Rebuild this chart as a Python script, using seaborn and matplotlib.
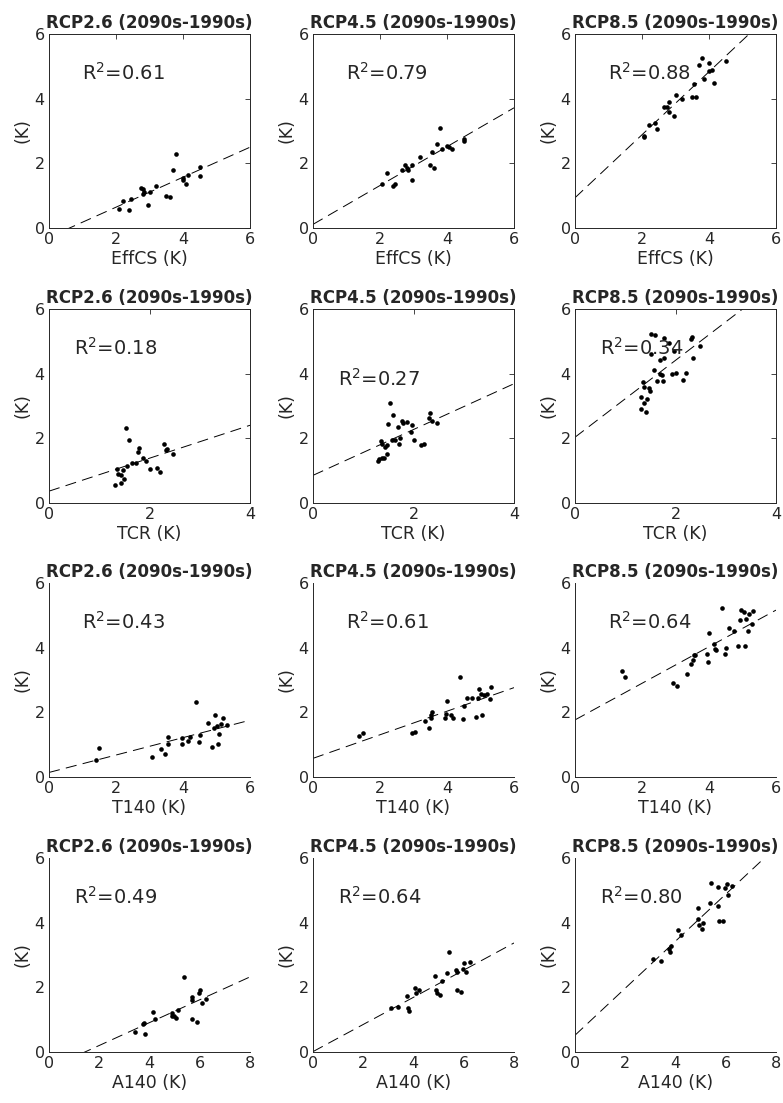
import numpy as np
import matplotlib
matplotlib.use("Agg")
import matplotlib.pyplot as plt
import seaborn as sns


# ---- data (x = metric, y = warming 2090s-1990s) ----
effcs_26_x = [2.1, 2.2, 2.4, 2.45, 2.75, 2.8, 2.8, 2.85, 2.95, 3.0, 3.2, 3.5, 3.6, 3.7, 3.8, 4.0, 4.0, 4.1, 4.15, 4.5, 4.5]
effcs_26_y = [0.6, 0.85, 0.55, 0.9, 1.25, 1.2, 1.05, 1.1, 0.7, 1.1, 1.3, 1.0, 0.95, 1.8, 2.3, 1.55, 1.5, 1.35, 1.65, 1.9, 1.6]
effcs_45_x = [2.05, 2.2, 2.4, 2.45, 2.65, 2.75, 2.8, 2.85, 2.95, 2.95, 3.2, 3.5, 3.55, 3.6, 3.7, 3.8, 3.85, 4.0, 4.05, 4.15, 4.5, 4.5]
effcs_45_y = [1.35, 1.7, 1.3, 1.35, 1.8, 1.95, 1.85, 1.8, 1.5, 1.95, 2.2, 1.95, 2.35, 1.85, 2.6, 3.1, 2.45, 2.55, 2.5, 2.45, 2.75, 2.7]
effcs_85_x = [2.05, 2.05, 2.2, 2.4, 2.45, 2.65, 2.75, 2.8, 2.8, 2.95, 3.0, 3.2, 3.5, 3.6, 3.55, 3.7, 3.8, 3.85, 4.0, 4.0, 4.1, 4.15, 4.5]
effcs_85_y = [2.85, 2.8, 3.2, 3.25, 3.05, 3.75, 3.75, 3.9, 3.6, 3.45, 4.1, 4.0, 4.05, 4.05, 4.45, 5.05, 5.25, 4.6, 5.1, 4.85, 4.9, 4.5, 5.15]

tcr_26_x = [1.31, 1.36, 1.38, 1.43, 1.43, 1.49, 1.47, 1.53, 1.56, 1.6, 1.65, 1.74, 1.77, 1.79, 1.87, 1.94, 2.0, 2.15, 2.21, 2.29, 2.33, 2.35, 2.47]
tcr_26_y = [0.57, 1.04, 0.91, 0.86, 0.63, 0.73, 1.01, 2.33, 1.14, 1.95, 1.24, 1.24, 1.58, 1.69, 1.38, 1.31, 1.04, 1.09, 0.96, 1.83, 1.65, 1.66, 1.53]
tcr_45_x = [1.29, 1.32, 1.37, 1.42, 1.36, 1.37, 1.43, 1.47, 1.48, 1.5, 1.53, 1.58, 1.6, 1.63, 1.7, 1.72, 1.73, 1.78, 1.8, 1.87, 1.95, 1.97, 2.0, 2.15, 2.2, 2.3, 2.33, 2.37, 2.47]
tcr_45_y = [1.31, 1.37, 1.39, 1.39, 1.91, 1.84, 1.73, 1.79, 1.53, 2.44, 3.1, 1.96, 2.72, 1.96, 2.36, 1.84, 2.0, 2.54, 2.46, 2.51, 2.2, 2.41, 1.94, 1.79, 1.84, 2.62, 2.77, 2.54, 2.46]
tcr_85_x = [1.31, 1.31, 1.35, 1.37, 1.38, 1.42, 1.43, 1.47, 1.49, 1.51, 1.51, 1.57, 1.6, 1.63, 1.7, 1.7, 1.73, 1.75, 1.78, 1.77, 1.87, 1.93, 1.98, 2.0, 2.15, 2.21, 2.31, 2.33, 2.35, 2.49]
tcr_85_y = [3.27, 2.9, 3.75, 3.09, 3.6, 2.82, 3.22, 3.55, 3.47, 5.22, 4.6, 4.12, 5.2, 3.77, 4.43, 3.98, 3.96, 3.77, 4.48, 5.1, 4.94, 3.98, 4.7, 4.01, 3.8, 4.03, 5.08, 5.12, 4.5, 4.87]

t140_26_x = [1.4, 1.5, 3.06, 3.35, 3.46, 3.55, 3.56, 3.96, 3.97, 4.14, 4.21, 4.39, 4.49, 4.51, 4.76, 4.88, 4.96, 4.93, 5.0, 5.05, 5.07, 5.13, 5.2, 5.3]
t140_26_y = [0.54, 0.91, 0.61, 0.87, 0.71, 1.02, 1.25, 1.21, 1.01, 1.12, 1.24, 2.33, 1.08, 1.29, 1.68, 0.94, 1.93, 1.51, 1.57, 1.01, 1.34, 1.65, 1.82, 1.62]
t140_45_x = [1.38, 1.48, 2.95, 3.05, 3.34, 3.46, 3.52, 3.53, 3.55, 3.95, 3.97, 4.0, 4.12, 4.18, 4.4, 4.47, 4.5, 4.6, 4.75, 4.88, 4.92, 4.97, 5.05, 5.02, 5.1, 5.2, 5.28, 5.3]
t140_45_y = [1.28, 1.36, 1.35, 1.38, 1.72, 1.51, 1.83, 1.93, 2.01, 1.83, 1.95, 2.35, 1.93, 1.83, 3.1, 1.8, 2.19, 2.43, 2.45, 1.85, 2.45, 2.71, 1.93, 2.58, 2.54, 2.58, 2.4, 2.77]
t140_85_x = [1.4, 1.5, 2.93, 3.05, 3.35, 3.47, 3.53, 3.55, 3.57, 3.95, 3.97, 4.0, 4.15, 4.18, 4.21, 4.4, 4.48, 4.5, 4.6, 4.75, 4.87, 4.92, 4.97, 5.03, 5.07, 5.11, 5.15, 5.2, 5.27, 5.3]
t140_85_y = [3.29, 3.08, 2.9, 2.82, 3.2, 3.48, 3.62, 3.78, 3.76, 3.79, 3.55, 4.44, 4.1, 3.97, 3.94, 5.22, 3.81, 4.0, 4.62, 4.51, 4.04, 4.85, 5.18, 5.11, 4.04, 4.9, 4.51, 5.03, 4.72, 5.14]

a140_26_x = [3.42, 3.75, 3.79, 3.84, 4.12, 4.21, 4.9, 4.9, 4.97, 5.05, 5.12, 5.38, 5.7, 5.71, 5.71, 5.91, 5.98, 6.01, 6.07, 6.23]
a140_26_y = [0.61, 0.87, 0.91, 0.55, 1.25, 1.02, 1.22, 1.12, 1.1, 1.06, 1.3, 2.33, 1.62, 1.69, 1.02, 0.94, 1.83, 1.93, 1.51, 1.64]
a140_45_x = [3.09, 3.4, 3.73, 3.8, 3.83, 4.07, 4.11, 4.2, 4.87, 4.91, 4.93, 5.07, 5.13, 5.33, 5.4, 5.69, 5.73, 5.73, 5.91, 5.97, 6.0, 6.07, 6.24]
a140_45_y = [1.36, 1.39, 1.72, 1.36, 1.27, 1.99, 1.83, 1.91, 2.35, 1.93, 1.83, 1.77, 2.19, 2.45, 3.1, 2.54, 2.47, 1.93, 1.85, 2.58, 2.75, 2.47, 2.79]
a140_85_x = [3.11, 3.43, 3.73, 3.77, 3.83, 4.11, 4.23, 4.89, 4.91, 4.93, 5.11, 5.07, 5.37, 5.4, 5.69, 5.71, 5.73, 5.91, 5.96, 6.03, 6.07, 6.23]
a140_85_y = [2.89, 2.82, 3.2, 3.08, 3.29, 3.78, 3.62, 4.44, 4.12, 3.94, 4.0, 3.81, 4.62, 5.24, 4.52, 5.11, 4.05, 4.05, 5.06, 5.2, 4.85, 5.14]

scenarios = ["RCP2.6", "RCP4.5", "RCP8.5"]
metrics = ["EffCS", "TCR", "T140", "A140"]
metric_xmax = [6, 4, 6, 8]
r2_labels = [["0.61", "0.79", "0.88"],
             ["0.18", "0.27", "0.34"],
             ["0.43", "0.61", "0.64"],
             ["0.49", "0.64", "0.80"]]

panels = [[(effcs_26_x, effcs_26_y), (effcs_45_x, effcs_45_y), (effcs_85_x, effcs_85_y)],
          [(tcr_26_x, tcr_26_y), (tcr_45_x, tcr_45_y), (tcr_85_x, tcr_85_y)],
          [(t140_26_x, t140_26_y), (t140_45_x, t140_45_y), (t140_85_x, t140_85_y)],
          [(a140_26_x, a140_26_y), (a140_45_x, a140_45_y), (a140_85_x, a140_85_y)]]

sns.set_theme(style="white")
plt.rcParams["font.family"] = ["DejaVu Sans"]
plt.rcParams["lines.scale_dashes"] = False

W, H = 783, 1103
fig = plt.figure(figsize=(W / 100, H / 100), dpi=100)

col_left = [49, 313, 575]
row_top = [34, 309, 583, 858]
ax_w, ax_h = 201, 194
axcol = "#262626"

for r in range(4):
    for c in range(3):
        x, y = panels[r][c]
        ax = fig.add_axes([col_left[c] / W, 1 - (row_top[r] + ax_h) / H, ax_w / W, ax_h / H])
        xmax = metric_xmax[r]
        ax.set_xlim(0, xmax)
        ax.set_ylim(0, 6)
        # regression line spans the whole x axis, like the original
        sns.regplot(x=np.array(x), y=np.array(y), ax=ax, ci=None, truncate=False,
                    scatter_kws={"s": 11, "color": "black", "linewidths": 0, "alpha": 1},
                    line_kws={"color": "black", "lw": 0.7, "dashes": (8, 4.5)})
        ax.set_xlim(0, xmax)
        ax.set_ylim(0, 6)
        ax.set_xticks(np.arange(0, xmax + 1, 2))
        ax.set_yticks([0, 2, 4, 6])
        boxed = r < 2
        ax.tick_params(direction="in", length=3.5, width=0.6, colors=axcol,
                       labelsize=11.5, labelcolor=axcol, top=boxed, right=boxed, pad=3)
        for side, sp in ax.spines.items():
            sp.set_color(axcol)
            sp.set_linewidth(0.7)
            if side in ("top", "right"):
                sp.set_visible(boxed)
        ax.set_xlabel(metrics[r] + " (K)", fontsize=12.5, color=axcol, labelpad=2)
        ax.set_ylabel("(K)", fontsize=12.5, color=axcol, labelpad=2)
        ax.set_title(scenarios[c] + " (2090s-1990s)", fontsize=12, fontweight="bold", pad=4)
        tx = 0.5 if r == 1 else 1.0
        ty = 3.85 if (r == 1 and c == 1) else 4.8
        ax.text(tx, ty, r"R$^2$=" + r2_labels[r][c], fontsize=14, ha="left", va="center")

fig.savefig("out.png", dpi=100)
